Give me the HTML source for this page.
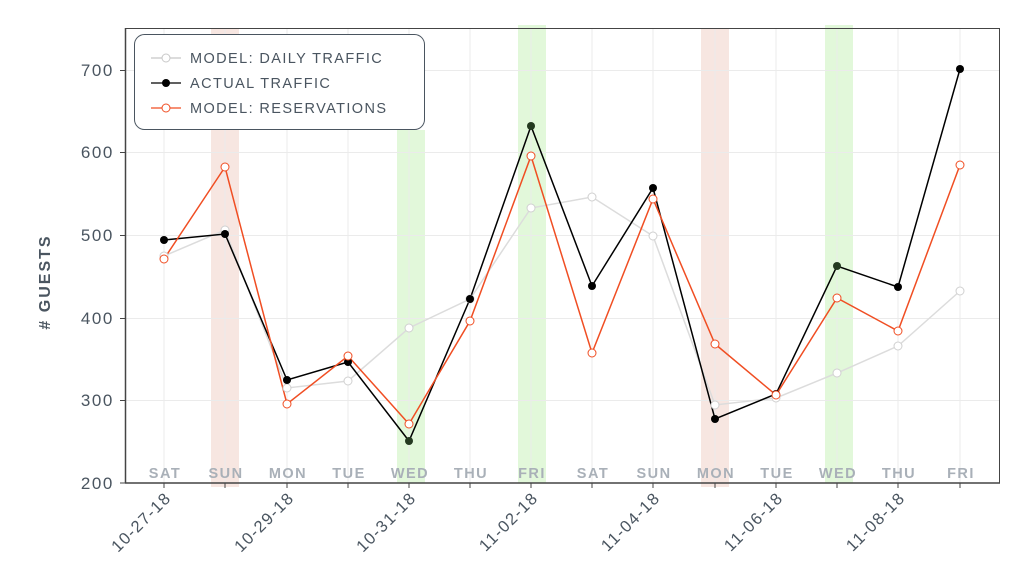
<!DOCTYPE html>
<html><head><meta charset="utf-8"><style>
body{margin:0;background:#fff}
text{font-family:"Liberation Sans",sans-serif}
</style></head><body>
<svg width="1020" height="583" xmlns="http://www.w3.org/2000/svg">
<rect width="1020" height="583" fill="#fff"/>
<rect x="211" y="28" width="28" height="459" fill="#f7e6e1"/>
<rect x="701" y="28" width="28" height="459" fill="#f7e6e1"/>
<rect x="397" y="130" width="28" height="353" fill="#e2f8da"/>
<rect x="518" y="25" width="28" height="458" fill="#e2f8da"/>
<rect x="825" y="25" width="28" height="458" fill="#e2f8da"/>
<g stroke="#ebebeb" stroke-width="1">
<line x1="125" x2="1000" y1="70.5" y2="70.5"/><line x1="125" x2="1000" y1="152.5" y2="152.5"/>
<line x1="125" x2="1000" y1="235.5" y2="235.5"/><line x1="125" x2="1000" y1="318.5" y2="318.5"/>
<line x1="125" x2="1000" y1="400.5" y2="400.5"/>
<line x1="164" x2="164" y1="28" y2="483"/><line x1="225" x2="225" y1="28" y2="483"/><line x1="287" x2="287" y1="28" y2="483"/><line x1="348" x2="348" y1="28" y2="483"/><line x1="409" x2="409" y1="28" y2="483"/><line x1="470" x2="470" y1="28" y2="483"/><line x1="531" x2="531" y1="28" y2="483"/><line x1="592" x2="592" y1="28" y2="483"/><line x1="653" x2="653" y1="28" y2="483"/><line x1="715" x2="715" y1="28" y2="483"/><line x1="776" x2="776" y1="28" y2="483"/><line x1="837" x2="837" y1="28" y2="483"/><line x1="898" x2="898" y1="28" y2="483"/><line x1="960" x2="960" y1="28" y2="483"/>
</g>
<rect x="125.5" y="28.5" width="874" height="454.5" fill="none" stroke="#444" stroke-width="1"/>
<line x1="125" x2="1000" y1="483" y2="483" stroke="#444" stroke-width="1.5"/>
<line x1="125.5" x2="125.5" y1="28" y2="483" stroke="#444" stroke-width="1.5"/>
<g stroke="#444"><line x1="120" x2="125" y1="70.5" y2="70.5"/><line x1="120" x2="125" y1="152.5" y2="152.5"/><line x1="120" x2="125" y1="235.5" y2="235.5"/><line x1="120" x2="125" y1="318.5" y2="318.5"/><line x1="120" x2="125" y1="400.5" y2="400.5"/><line x1="120" x2="125" y1="483" y2="483"/>
<line x1="164" x2="164" y1="483" y2="488"/><line x1="225" x2="225" y1="483" y2="488"/><line x1="287" x2="287" y1="483" y2="488"/><line x1="348" x2="348" y1="483" y2="488"/><line x1="409" x2="409" y1="483" y2="488"/><line x1="470" x2="470" y1="483" y2="488"/><line x1="531" x2="531" y1="483" y2="488"/><line x1="592" x2="592" y1="483" y2="488"/><line x1="653" x2="653" y1="483" y2="488"/><line x1="715" x2="715" y1="483" y2="488"/><line x1="776" x2="776" y1="483" y2="488"/><line x1="837" x2="837" y1="483" y2="488"/><line x1="898" x2="898" y1="483" y2="488"/><line x1="960" x2="960" y1="483" y2="488"/></g>
<g fill="#4a5560" font-size="17" text-anchor="end" letter-spacing="1.6">
<text x="114" y="76">700</text><text x="114" y="158">600</text><text x="114" y="241">500</text><text x="114" y="324">400</text><text x="114" y="406">300</text><text x="114" y="489">200</text></g>
<text transform="translate(50,282) rotate(-90)" text-anchor="middle" fill="#4a5560" font-size="16" font-weight="bold" letter-spacing="2">#  GUESTS</text>
<g fill="#a9b0b8" font-size="14.5" font-weight="bold" text-anchor="middle" letter-spacing="1.5">
<text x="165" y="478">SAT</text><text x="226" y="478">SUN</text><text x="288" y="478">MON</text><text x="349" y="478">TUE</text><text x="410" y="478">WED</text><text x="471" y="478">THU</text><text x="532" y="478">FRI</text><text x="593" y="478">SAT</text><text x="654" y="478">SUN</text><text x="716" y="478">MON</text><text x="777" y="478">TUE</text><text x="838" y="478">WED</text><text x="899" y="478">THU</text><text x="961" y="478">FRI</text></g>
<g fill="#4a5560" font-size="16.5" text-anchor="end" letter-spacing="1.3">
<text transform="translate(172,499) rotate(-45)">10-27-18</text>
<text transform="translate(295,499) rotate(-45)">10-29-18</text>
<text transform="translate(417,499) rotate(-45)">10-31-18</text>
<text transform="translate(539,499) rotate(-45)">11-02-18</text>
<text transform="translate(661,499) rotate(-45)">11-04-18</text>
<text transform="translate(784,499) rotate(-45)">11-06-18</text>
<text transform="translate(906,499) rotate(-45)">11-08-18</text></g>
<g fill="none" stroke-width="1.5">
<polyline stroke="#dcdcdc" points="164,256 225,230 287,388 348,381 409,328 470,299 531,208 592,197 653,236 715,405 776,398 837,373 898,346 960,291"/>
<polyline stroke="#000" points="164,240 225,234 287,380 348,362 409,441 470,299 531,126 592,286 653,188 715,419 776,394 837,266 898,287 960,69"/>
<polyline stroke="#f04e23" points="164,259 225,167 287,404 348,356 409,424 470,321 531,156 592,353 653,199 715,344 776,395 837,298 898,331 960,165"/>
</g>
<g fill="#fff" stroke="#d0d0d0" stroke-width="1">
<circle cx="164" cy="256" r="4"/><circle cx="225" cy="230" r="4"/><circle cx="287" cy="388" r="4"/><circle cx="348" cy="381" r="4"/><circle cx="409" cy="328" r="4"/><circle cx="470" cy="299" r="4"/><circle cx="531" cy="208" r="4"/><circle cx="592" cy="197" r="4"/><circle cx="653" cy="236" r="4"/><circle cx="715" cy="405" r="4"/><circle cx="776" cy="398" r="4"/><circle cx="837" cy="373" r="4"/><circle cx="898" cy="346" r="4"/><circle cx="960" cy="291" r="4"/></g>
<g fill="#000">
<circle cx="164" cy="240" r="4"/><circle cx="225" cy="234" r="4"/><circle cx="287" cy="380" r="4"/><circle cx="348" cy="362" r="4"/><circle cx="409" cy="441" r="4" fill="#243a20"/><circle cx="470" cy="299" r="4"/><circle cx="531" cy="126" r="4" fill="#243a20"/><circle cx="592" cy="286" r="4"/><circle cx="653" cy="188" r="4"/><circle cx="715" cy="419" r="4"/><circle cx="776" cy="394" r="4"/><circle cx="837" cy="266" r="4" fill="#243a20"/><circle cx="898" cy="287" r="4"/><circle cx="960" cy="69" r="4"/></g>
<g fill="#fff" stroke="#f04e23" stroke-width="1">
<circle cx="164" cy="259" r="4"/><circle cx="225" cy="167" r="4"/><circle cx="287" cy="404" r="4"/><circle cx="348" cy="356" r="4"/><circle cx="409" cy="424" r="4"/><circle cx="470" cy="321" r="4"/><circle cx="531" cy="156" r="4"/><circle cx="592" cy="353" r="4"/><circle cx="653" cy="199" r="4"/><circle cx="715" cy="344" r="4"/><circle cx="776" cy="395" r="4"/><circle cx="837" cy="298" r="4"/><circle cx="898" cy="331" r="4"/><circle cx="960" cy="165" r="4"/></g>
<rect x="134.5" y="34.5" width="290" height="95" rx="10" fill="#fff" stroke="#4a5560" stroke-width="1"/>
<line x1="151" x2="181" y1="58" y2="58" stroke="#c8c8c8" stroke-width="1.2"/><circle cx="166" cy="58" r="4" fill="#fff" stroke="#c8c8c8"/>
<line x1="151" x2="181" y1="83" y2="83" stroke="#000" stroke-width="1.2"/><circle cx="166" cy="83" r="4" fill="#000"/>
<line x1="151" x2="181" y1="108" y2="108" stroke="#f04e23" stroke-width="1.2"/><circle cx="166" cy="108" r="4" fill="#fff" stroke="#f04e23"/>
<g fill="#4a5560" font-size="14.5" letter-spacing="1.4">
<text x="190" y="63">MODEL: DAILY TRAFFIC</text><text x="190" y="88">ACTUAL TRAFFIC</text><text x="190" y="113">MODEL: RESERVATIONS</text></g>
</svg>
</body></html>
